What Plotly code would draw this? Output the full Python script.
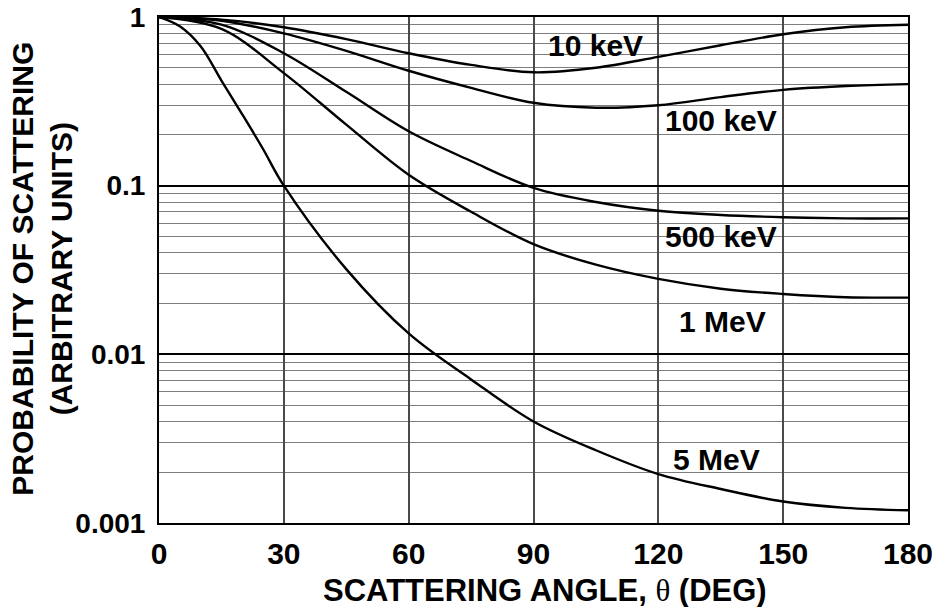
import numpy as np
import plotly.graph_objects as go

# Scattering angle (degrees) at which each curve is sampled
angles = [0, 15, 30, 45, 60, 75, 90, 105, 120, 135, 150, 165, 180]
angles_5mev = [0, 5, 10, 15, 20, 25, 30, 45, 60, 75, 90, 105, 120, 135, 150, 165, 180]

# Relative probability of scattering (arbitrary units, 1 at 0 deg)
p_10kev = [1, 0.965, 0.87, 0.74, 0.61, 0.52, 0.47, 0.50, 0.58, 0.68, 0.79, 0.87, 0.90]
p_100kev = [1, 0.95, 0.80, 0.63, 0.48, 0.38, 0.31, 0.29, 0.30, 0.335, 0.37, 0.39, 0.40]
p_500kev = [1, 0.90, 0.61, 0.36, 0.21, 0.14, 0.097, 0.080, 0.071, 0.067, 0.065, 0.064, 0.064]
p_1mev = [1, 0.85, 0.465, 0.23, 0.116, 0.070, 0.045, 0.034, 0.028, 0.0245, 0.0228, 0.0218, 0.0217]
p_5mev = [1, 0.88, 0.67, 0.42, 0.265, 0.165, 0.10, 0.032, 0.0133, 0.0071, 0.0040, 0.0027,
          0.00195, 0.00159, 0.00134, 0.00123, 0.00119]

series = [
    ("10 keV", angles, p_10kev),
    ("100 keV", angles, p_100kev),
    ("500 keV", angles, p_500kev),
    ("1 MeV", angles, p_1mev),
    ("5 MeV", angles_5mev, p_5mev),
]

# Curve labels: text, angle, probability
label_text = ["10 keV", "100 keV", "500 keV", "1 MeV", "5 MeV"]
label_x = [105, 135, 135, 135.5, 134]
label_y = [0.68, 0.243, 0.0498, 0.0157, 0.00237]

x_ticks = [0, 30, 60, 90, 120, 150, 180]
y_ticks = [0.001, 0.01, 0.1, 1]
y_ticktext = ["0.001", "0.01", "0.1", "1"]

FONT = "Liberation Sans, Arial, Helvetica, sans-serif"

fig = go.Figure()
for name, xs, ys in series:
    fig.add_trace(go.Scatter(
        x=xs, y=ys, name=name, mode="lines",
        line=dict(color="black", width=2.4, shape="spline", smoothing=1.0),
        showlegend=False, hoverinfo="skip",
    ))

for t, x, y in zip(label_text, label_x, label_y):
    fig.add_annotation(
        x=x, y=np.log10(y), xref="x", yref="y", text=t, showarrow=False,
        font=dict(family=FONT, size=30, color="black", weight="bold"),
        xanchor="center", yanchor="middle",
    )

minor_vals = [m * 10.0 ** e for e in (-3, -2, -1) for m in range(2, 10)]

fig.update_xaxes(
    range=[0, 180], tickmode="array", tickvals=x_ticks, automargin=False,
    showgrid=True, gridcolor="#4a4a4a", gridwidth=1.8, zeroline=False,
    showline=True, mirror=True, linecolor="black", linewidth=2,
    ticks="", ticklabelstandoff=3, ticklabeloverflow="allow",
    tickfont=dict(family=FONT, size=30, color="black", weight="bold"),
)
fig.update_yaxes(
    type="log", range=[-3, 0], tickmode="array", tickvals=y_ticks, ticktext=y_ticktext,
    automargin=False,
    showgrid=True, gridcolor="black", gridwidth=2, zeroline=False,
    showline=True, mirror=True, linecolor="black", linewidth=2,
    ticks="", ticklabelstandoff=6, ticklabeloverflow="allow",
    tickfont=dict(family=FONT, size=28, color="black", weight="bold"),
    minor=dict(tickmode="array", tickvals=minor_vals, showgrid=True,
               gridcolor="#7e7e7e", gridwidth=1.4, ticks=""),
)

fig.add_annotation(
    xref="paper", yref="paper", x=0.516, y=-0.133,
    text="SCATTERING ANGLE, <span style='font-family:Liberation Serif;font-weight:normal'>θ</span> (DEG)",
    showarrow=False, xanchor="center", yanchor="middle",
    font=dict(family=FONT, size=31, color="black", weight="bold"),
)
fig.add_annotation(
    xref="paper", yref="paper", x=-0.156, y=0.503,
    text="PROBABILITY OF SCATTERING<br>(ARBITRARY UNITS)",
    showarrow=False, textangle=-90, xanchor="center", yanchor="middle",
    font=dict(family=FONT, size=30, color="black", weight="bold"),
)

fig.update_layout(
    width=938, height=607,
    margin=dict(l=159, r=30, t=17, b=84),
    paper_bgcolor="white", plot_bgcolor="white",
    showlegend=False,
)

fig.write_html("out.html")
